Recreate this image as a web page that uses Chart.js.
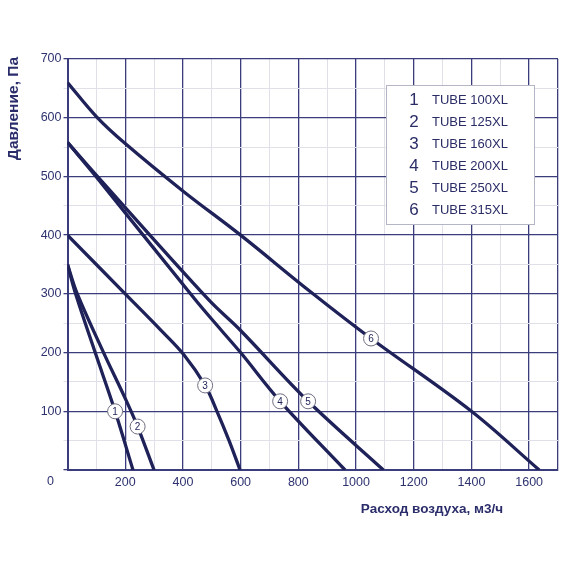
<!DOCTYPE html>
<html>
<head>
  <title>TUBE XL</title>
  <script src="https://cdn.jsdelivr.net/npm/chart.js"></script>
  <style>
    body { margin: 0; background: #fff; }
  </style>
</head>
<body>
  <canvas id="myChart" width="570" height="570"></canvas>
  <script>
    // curves: flow (m3/h) and pressure (Pa)
    const models = ['TUBE 100XL', 'TUBE 125XL', 'TUBE 160XL', 'TUBE 200XL', 'TUBE 250XL', 'TUBE 315XL'];

    const flow1 = [0, 28, 96, 165, 227];
    const pres1 = [350, 300, 200, 100, 0];
    const flow2 = [0, 34, 125, 200, 243, 300];
    const pres2 = [350, 300, 200, 122, 74, 0];
    const flow3 = [0, 200, 320, 404, 477, 518, 560, 598];
    const pres3 = [400, 300, 240, 196, 144, 100, 50, 0];
    const flow4 = [0, 100, 443, 533, 600, 737, 962];
    const pres4 = [558, 499, 290, 238, 200, 117, 0];
    const flow5 = [0, 102, 489, 599, 834, 1095];
    const pres5 = [558, 501, 290, 238, 117, 0];
    const flow6 = [0, 100, 200, 403, 600, 841, 1052, 1400, 1635];
    const pres6 = [660, 602, 556, 474, 400, 304, 224, 100, 0];

    // where the circled numbers sit on the curves
    const markFlow = [165, 243, 477, 737, 834, 1052];
    const markPres = [100, 74, 144, 117, 117, 224];

    const flows = [flow1, flow2, flow3, flow4, flow5, flow6];
    const pressures = [pres1, pres2, pres3, pres4, pres5, pres6];

    const navy = '#1f2159';
    const gridNavy = '#3a3c7c';
    const labelColor = '#2e3370';
    const font = '"Liberation Sans", Arial, sans-serif';

    const overlay = {
      id: 'overlay',
      afterDatasetsDraw(chart) {
        const ctx = chart.ctx;
        const a = chart.chartArea;
        const x = chart.scales.x, y = chart.scales.y;
        ctx.save();

        // circled curve numbers
        for (let i = 0; i < markFlow.length; i++) {
          const px = x.getPixelForValue(markFlow[i]);
          const py = y.getPixelForValue(markPres[i]);
          ctx.beginPath();
          ctx.arc(px, py, 7.5, 0, Math.PI * 2);
          ctx.fillStyle = '#fff';
          ctx.fill();
          ctx.lineWidth = 1;
          ctx.strokeStyle = '#6e6e80';
          ctx.stroke();
          ctx.fillStyle = navy;
          ctx.font = '10px ' + font;
          ctx.textAlign = 'center';
          ctx.textBaseline = 'middle';
          ctx.fillText(String(i + 1), px, py + 0.5);
        }

        // legend box
        ctx.fillStyle = '#fff';
        ctx.fillRect(386, 85, 148, 139);
        ctx.strokeStyle = '#b4b6c6';
        ctx.lineWidth = 1;
        ctx.strokeRect(386.5, 85.5, 148, 139);
        for (let i = 0; i < models.length; i++) {
          const ry = 100 + i * 22;
          ctx.fillStyle = '#2a2c66';
          ctx.textBaseline = 'middle';
          ctx.textAlign = 'center';
          ctx.font = '17px ' + font;
          ctx.fillText(String(i + 1), 414, ry);
          ctx.textAlign = 'left';
          ctx.font = '13px ' + font;
          ctx.fillText(models[i], 432, ry);
        }

        // origin label
        ctx.fillStyle = labelColor;
        ctx.font = '12.5px ' + font;
        ctx.textAlign = 'center';
        ctx.textBaseline = 'middle';
        ctx.fillText('0', a.left - 17, a.bottom + 12);

        // axis titles
        ctx.fillStyle = '#2b2d6b';
        ctx.font = 'bold 13.5px ' + font;
        ctx.textAlign = 'right';
        ctx.fillText('Расход воздуха, м3/ч', 503, 509);
        ctx.font = 'bold 15.5px ' + font;
        ctx.translate(14, 57);
        ctx.rotate(-Math.PI / 2);
        ctx.textAlign = 'right';
        ctx.fillText('Давление, Па', 0, 0);
        ctx.restore();
      }
    };

    const datasets = flows.map((f, i) => ({
      label: models[i],
      data: f.map((q, j) => ({ x: q, y: pressures[i][j] })),
      showLine: true,
      borderColor: navy,
      borderWidth: 3.3,
      pointRadius: 0,
      tension: 0.35,
      fill: false
    }));

    const ctx = document.getElementById('myChart').getContext('2d');
    const chart = new Chart(ctx, {
      type: 'scatter',
      data: { datasets: datasets },
      options: {
        responsive: false,
        animation: false,
        layout: { padding: { left: 0, top: 59, right: 12, bottom: 0 } },
        plugins: {
          legend: { display: false },
          tooltip: { enabled: false }
        },
        scales: {
          x: {
            type: 'linear',
            min: 0,
            max: 1700,
            afterFit: s => { s.height = 100; },
            border: { color: gridNavy, width: 2 },
            grid: {
              drawTicks: false,
              color: c => (c.tick.value % 200 === 0 || c.tick.value === 1700) ? gridNavy : '#e0e0e8',
              lineWidth: c => (c.tick.value % 200 === 0 || c.tick.value === 1700) ? 1.3 : 1
            },
            ticks: {
              stepSize: 100,
              padding: 5,
              color: labelColor,
              font: { family: font, size: 12.5 },
              maxRotation: 0,
              autoSkip: false,
              callback: v => (v > 0 && v % 200 === 0) ? String(v) : ''
            }
          },
          y: {
            min: 0,
            max: 700,
            afterFit: s => { s.width = 67.5; },
            border: { color: gridNavy, width: 2 },
            grid: {
              tickLength: 4,
              color: c => (c.tick.value % 100 === 0) ? gridNavy : '#e0e0e8',
              lineWidth: c => (c.tick.value % 100 === 0) ? 1.3 : 1
            },
            ticks: {
              stepSize: 50,
              padding: 2,
              color: labelColor,
              font: { family: font, size: 12.5 },
              autoSkip: false,
              callback: v => (v > 0 && v % 100 === 0) ? String(v) : ''
            }
          }
        }
      },
      plugins: [overlay]
    });
  </script>
</body>
</html>
